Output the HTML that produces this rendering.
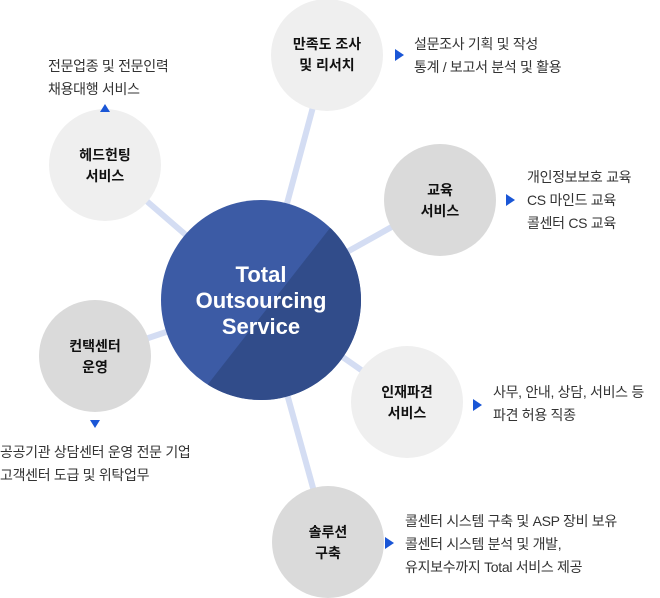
<!DOCTYPE html>
<html><head><meta charset="utf-8"><style>
body{margin:0;background:#fff;width:660px;height:598px;overflow:hidden;position:relative;font-family:"Liberation Sans","Noto Sans CJK KR",sans-serif}
.t{position:absolute;font-size:14px;color:#333;line-height:23px;white-space:nowrap;letter-spacing:-0.3px}
.l{position:absolute;font-size:14px;font-weight:bold;color:#111;line-height:21px;text-align:center;width:120px;white-space:nowrap}
.c{position:absolute;width:240px;text-align:center;color:#fff;font-weight:bold;font-size:22px;line-height:26px}
</style></head><body>
<svg width="660" height="598" style="position:absolute;left:0;top:0">
<defs><clipPath id="cc"><circle cx="261" cy="300" r="100"/></clipPath></defs>
<g stroke="#d4ddf3" stroke-width="6">
<line x1="261" y1="300" x2="327" y2="55"/>
<line x1="261" y1="300" x2="440" y2="200"/>
<line x1="261" y1="300" x2="105" y2="165"/>
<line x1="261" y1="300" x2="95" y2="356"/>
<line x1="261" y1="300" x2="407" y2="402"/>
<line x1="261" y1="300" x2="328" y2="542"/>
</g>
<circle cx="327" cy="55" r="56" fill="#efefef"/>
<circle cx="440" cy="200" r="56" fill="#dadada"/>
<circle cx="105" cy="165" r="56" fill="#efefef"/>
<circle cx="95" cy="356" r="56" fill="#dadada"/>
<circle cx="407" cy="402" r="56" fill="#efefef"/>
<circle cx="328" cy="542" r="56" fill="#dadada"/>
<g clip-path="url(#cc)">
<rect x="150" y="190" width="230" height="230" fill="#3c5ba5"/>
<polygon points="330,228 380,228 380,420 180,420" fill="#314c8a"/>
</g>
<g fill="#1a56d6">
<polygon points="395,49 395,61 404,55"/>
<polygon points="506,194 506,206 515,200"/>
<polygon points="473,399 473,411 482,405"/>
<polygon points="385,537 385,549 394,543"/>
<polygon points="90,420 100,420 95,428"/>
<polygon points="100,112 110,112 105,104"/>
</g>
</svg>
<div class="c" style="left:141px;top:262px">Total<br>Outsourcing<br>Service</div>
<div class="l" style="left:267px;top:34px">만족도 조사<br>및 리서치</div>
<div class="l" style="left:380px;top:180px">교육<br>서비스</div>
<div class="l" style="left:45px;top:145px">헤드헌팅<br>서비스</div>
<div class="l" style="left:35px;top:336px">컨택센터<br>운영</div>
<div class="l" style="left:347px;top:382px">인재파견<br>서비스</div>
<div class="l" style="left:268px;top:522px">솔루션<br>구축</div>
<div class="t" style="left:414px;top:33px">설문조사 기획 및 작성<br>통계 / 보고서 분석 및 활용</div>
<div class="t" style="left:527px;top:166px">개인정보보호 교육<br>CS 마인드 교육<br>콜센터 CS 교육</div>
<div class="t" style="left:493px;top:381px">사무, 안내, 상담, 서비스 등<br>파견 허용 직종</div>
<div class="t" style="left:405px;top:510px">콜센터 시스템 구축 및 ASP 장비 보유<br>콜센터 시스템 분석 및 개발,<br>유지보수까지 Total 서비스 제공</div>
<div class="t" style="left:0px;top:441px">공공기관 상담센터 운영 전문 기업<br>고객센터 도급 및 위탁업무</div>
<div class="t" style="left:48px;top:55px">전문업종 및 전문인력<br>채용대행 서비스</div>
</body></html>
